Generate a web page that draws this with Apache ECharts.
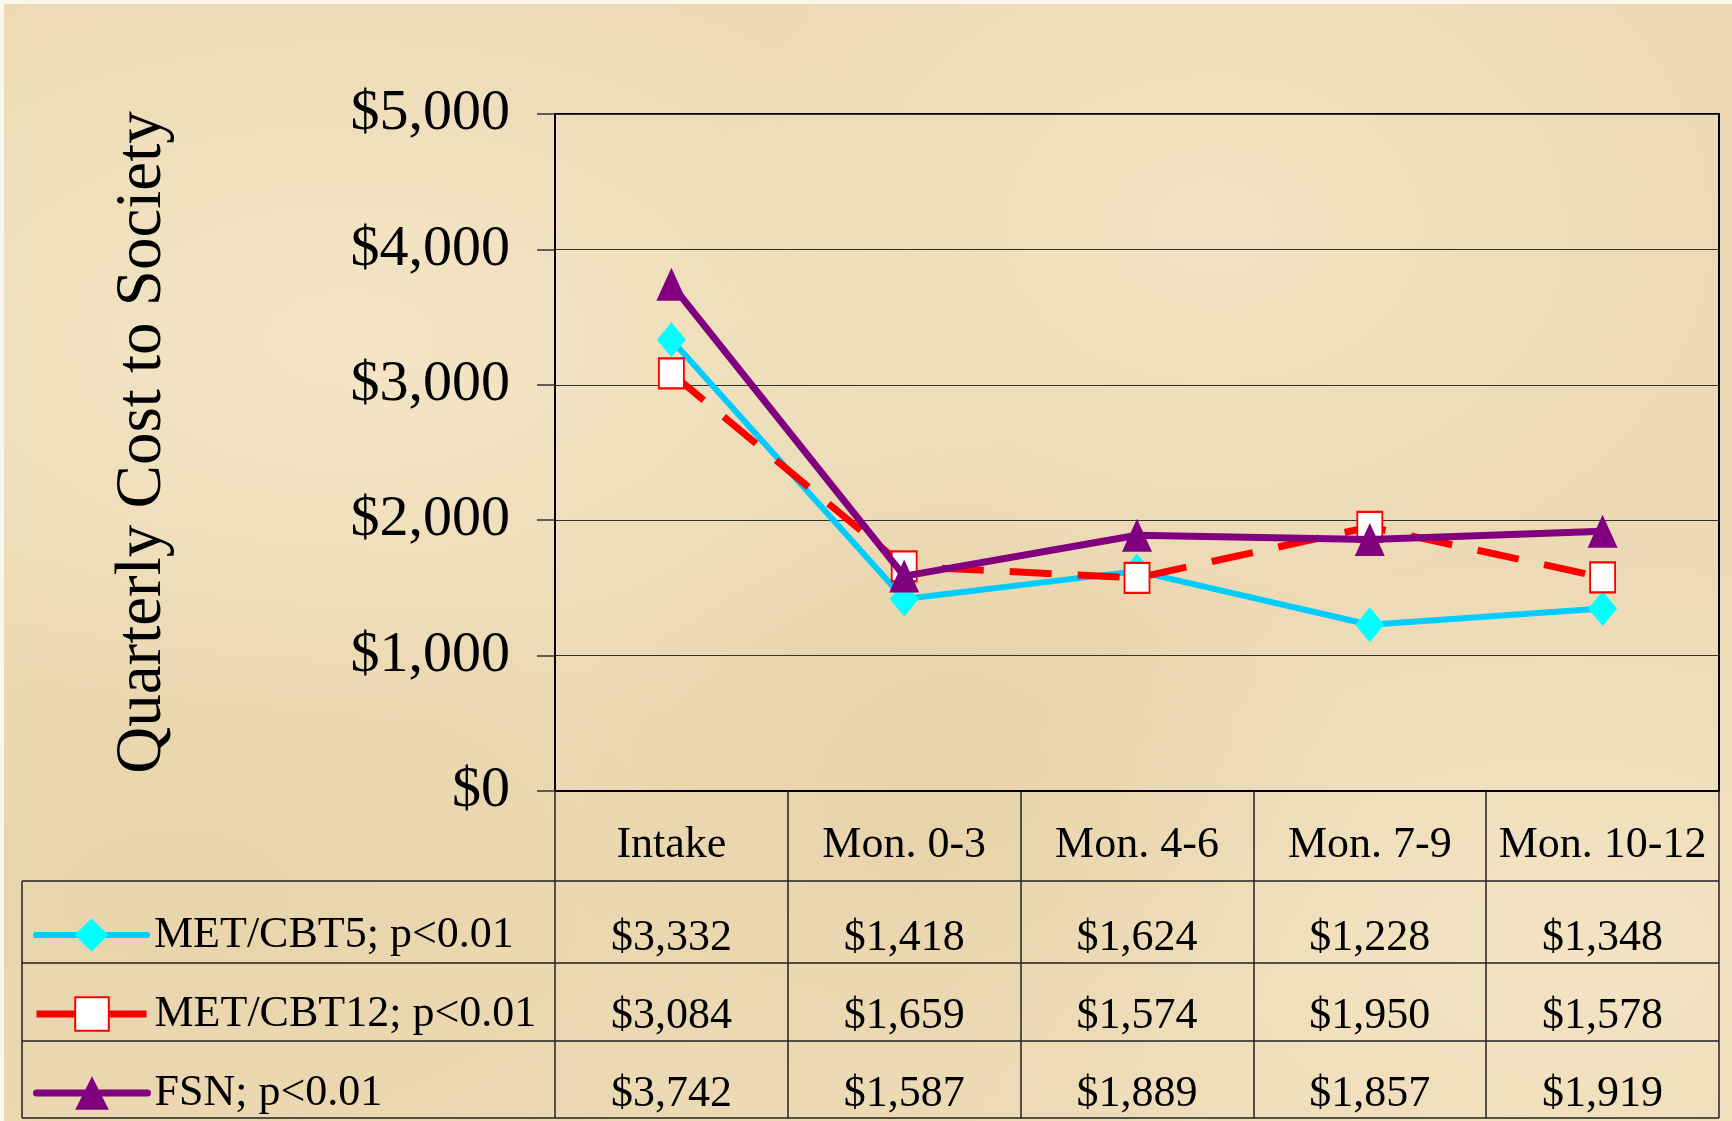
<!DOCTYPE html>
<html>
<head>
<meta charset="utf-8">
<title>Quarterly Cost to Society</title>
<script src="https://cdn.jsdelivr.net/npm/echarts@6/dist/echarts.min.js"></script>
<style>
  html, body { margin: 0; padding: 0; background: #fbf6ea; }
  #bg {
    position: absolute; left: 4px; top: 4px; right: 0; bottom: 0;
    background-color: #ecdab5;
    background-image:
      radial-gradient(ellipse at 20% 30%, rgba(246,234,205,0.7), rgba(246,234,205,0) 35%),
      radial-gradient(ellipse at 70% 20%, rgba(245,232,202,0.6), rgba(245,232,202,0) 30%),
      radial-gradient(ellipse at 55% 70%, rgba(226,203,156,0.45), rgba(226,203,156,0) 30%),
      radial-gradient(ellipse at 10% 80%, rgba(228,206,160,0.45), rgba(228,206,160,0) 30%),
      radial-gradient(ellipse at 90% 85%, rgba(246,234,205,0.6), rgba(246,234,205,0) 30%);
  }
  #chart { position: absolute; left: 0; top: 0; width: 1732px; height: 1121px; }
</style>
</head>
<body>
<div id="bg"></div>
<div id="chart"></div>
<script>
// data
var categories = ["Intake", "Mon. 0-3", "Mon. 4-6", "Mon. 7-9", "Mon. 10-12"];
var met5 = [3332, 1418, 1624, 1228, 1348];
var met12 = [3084, 1659, 1574, 1950, 1578];
var fsn = [3742, 1587, 1889, 1857, 1919];
var seriesNames = ["MET/CBT5; p<0.01", "MET/CBT12; p<0.01", "FSN; p<0.01"];
var yMin = 0, yMax = 5000, yStep = 1000;

var FONT = "'Liberation Serif', 'Times New Roman', serif";

function money(v) {
  return "$" + v.toLocaleString("en-US");
}

// table layout (bottom part under the plot)
var tableLeft = 22, tableRight = 1719;
var rowLines = [881, 963, 1041, 1118];
var legendTops = [913, 992, 1071];

// line styles shared by the series and their legend rows
var styles = [
  {
    symbol: "diamond", symbolSize: [29, 35],
    itemStyle: { color: "#00ffff" },
    lineStyle: { color: "#00ccff", width: 6, cap: "round" }
  },
  {
    symbol: "rect", symbolSize: [25, 30],
    itemStyle: { color: "#ffffff", borderColor: "#ff0000", borderWidth: 2 },
    lineStyle: { color: "#ff0000", width: 7, type: [42, 26] }
  },
  {
    symbol: "triangle", symbolSize: [30, 33],
    itemStyle: { color: "#800080" },
    lineStyle: { color: "#800080", width: 7, cap: "round" }
  }
];

var chart = echarts.init(document.getElementById("chart"));

var lines = [];
rowLines.forEach(function (y) {
  lines.push({
    type: "line",
    shape: { x1: tableLeft, y1: y, x2: tableRight, y2: y },
    style: { stroke: "#222", lineWidth: 1.5 }
  });
});
lines.push({
  type: "line",
  shape: { x1: tableLeft, y1: rowLines[0], x2: tableLeft, y2: rowLines[rowLines.length - 1] },
  style: { stroke: "#222", lineWidth: 1.5 }
});

var legends = seriesNames.map(function (name, i) {
  return {
    orient: "vertical",
    left: 33, top: legendTops[i],
    padding: 0,
    itemWidth: 111, itemHeight: 42,
    data: [{
      name: name,
      itemStyle: styles[i].itemStyle,
      lineStyle: styles[i].lineStyle
    }],
    textStyle: { fontSize: 44, color: "#000", fontFamily: FONT, padding: [0, 0, 0, 2] },
    selectedMode: false
  };
});

var series = seriesNames.map(function (name, i) {
  return {
    name: name,
    type: "line",
    data: [met5, met12, fsn][i],
    symbol: styles[i].symbol,
    symbolSize: styles[i].symbolSize,
    itemStyle: styles[i].itemStyle,
    lineStyle: styles[i].lineStyle,
    z: 2 + i
  };
});

var option = {
  backgroundColor: "transparent",
  textStyle: { fontFamily: FONT },
  grid: {
    left: 555, right: 13, top: 114, bottom: 330,
    show: true, borderColor: "#000", borderWidth: 2,
    backgroundColor: "transparent",
    outerBoundsMode: "none"
  },
  legend: legends,
  xAxis: {
    type: "category",
    data: categories,
    boundaryGap: true,
    axisLine: { lineStyle: { color: "#000", width: 2 } },
    axisTick: { show: true, length: 327, lineStyle: { color: "#222", width: 1.5 } },
    axisLabel: {
      interval: 0,
      margin: 0,
      color: "#000",
      formatter: function (value, idx) {
        return "{c|" + value + "}\n{v|" + money(met5[idx]) + "}\n{v|" +
          money(met12[idx]) + "}\n{v|" + money(fsn[idx]) + "}";
      },
      rich: {
        c: { fontSize: 44, lineHeight: 108, fontFamily: FONT, color: "#000" },
        v: { fontSize: 44, lineHeight: 78, fontFamily: FONT, color: "#000" }
      }
    }
  },
  yAxis: {
    type: "value",
    min: yMin, max: yMax, interval: yStep,
    name: "Quarterly Cost to Society",
    nameLocation: "middle",
    nameRotate: 90,
    nameGap: 380,
    nameTextStyle: { fontSize: 65, color: "#000", fontFamily: FONT, padding: [0, 0, 0, 20] },
    axisLine: { show: true, lineStyle: { color: "#000", width: 2 } },
    axisTick: { show: true, length: 18, lineStyle: { color: "#333", width: 1.5 } },
    axisLabel: {
      margin: 45,
      fontSize: 58, color: "#000", fontFamily: FONT,
      formatter: function (v) { return money(v); }
    },
    splitLine: { show: true, lineStyle: { color: "#333", width: 1.2 } }
  },
  series: series,
  graphic: lines
};

chart.setOption(option);

window.onresize = function () {
  chart.resize();
};
</script>
</body>
</html>
